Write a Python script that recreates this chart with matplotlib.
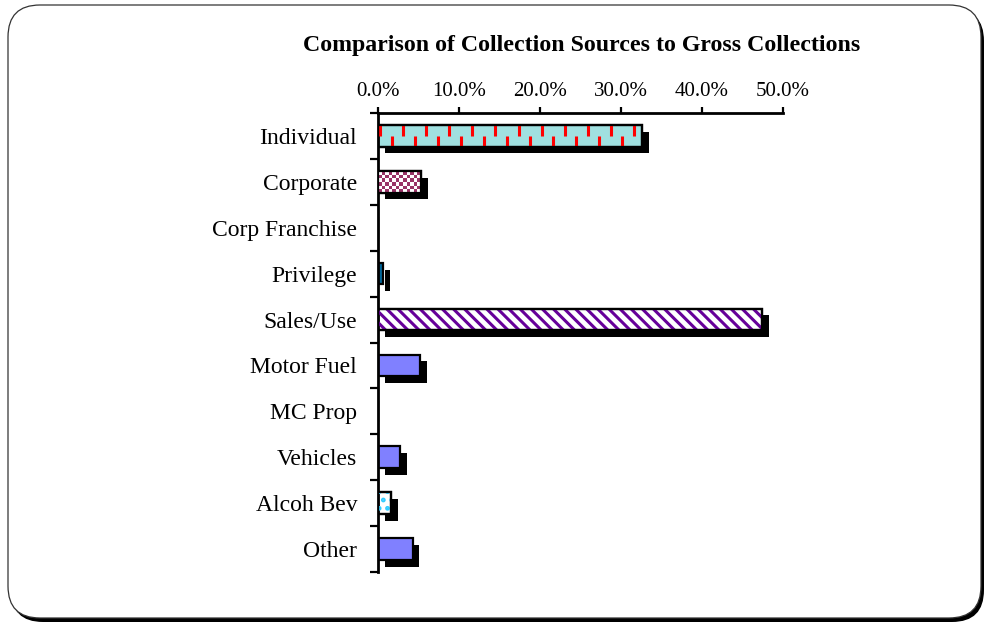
import numpy as np
import matplotlib
matplotlib.use('Agg')
import matplotlib.pyplot as plt
from matplotlib.patches import FancyBboxPatch, Rectangle
from matplotlib import patheffects as pe
from matplotlib.transforms import IdentityTransform

# share of gross collections by source, in percent
sources = ['Individual', 'Corporate', 'Corp Franchise', 'Privilege', 'Sales/Use',
           'Motor Fuel', 'MC Prop', 'Vehicles', 'Alcoh Bev', 'Other']
share = [32.6, 5.3, 0.0, 0.6, 47.4, 5.2, 0.0, 2.7, 1.6, 4.3]
x_ticks = [0, 10, 20, 30, 40, 50]
title = 'Comparison of Collection Sources to Gross Collections'

fills = ['#A0E0E0', '#FFFFFF', '#8080FF', '#006699', '#FFFFFF',
         '#8080FF', '#8080FF', '#8080FF', '#FFFFFF', '#8080FF']

plt.rcParams['font.family'] = ['Liberation Serif', 'DejaVu Serif']
plt.rcParams['hatch.linewidth'] = 2.2

fig = plt.figure(figsize=(9.86, 6.25), dpi=100)
fig.patch.set_facecolor('white')

# rounded page frame with a drop shadow, kept behind the axes
frame_shadow = FancyBboxPatch((11, 3), 973, 613, boxstyle='round,pad=0,rounding_size=32',
                              facecolor='black', edgecolor='black', linewidth=0,
                              transform=IdentityTransform(), zorder=-3)
frame = FancyBboxPatch((8, 7), 973, 613, boxstyle='round,pad=0,rounding_size=32',
                       facecolor='white', edgecolor='#333333', linewidth=0.9,
                       transform=IdentityTransform(), zorder=-2)
fig.add_artist(frame_shadow)
fig.add_artist(frame)

ax = fig.add_axes([378 / 986, 1 - 572 / 625, 405 / 986, 459 / 625])
ax.set_facecolor('none')

pos = np.arange(len(sources))
shadow_fx = [pe.SimplePatchShadow(offset=(4.8, -4.8), shadow_rgbFace='black', alpha=1.0),
             pe.Normal()]
bars = ax.barh(pos, share, height=0.47, color=fills, edgecolor='black',
               linewidth=1.6, zorder=2, path_effects=shadow_fx)

# Individual: red staggered dashes
b = bars[0]
y0, h = b.get_y(), b.get_height()
step = 2.85
row1 = np.arange(0.25, share[0] - 0.2, step)
row2 = np.arange(0.25 + step / 2, share[0] - 0.2, step)
dl1 = ax.vlines(row1, y0, y0 + h / 2, colors='red', linewidth=2.2, zorder=3)
dl2 = ax.vlines(row2, y0 + h / 2, y0 + h, colors='red', linewidth=2.2, zorder=3)
dl1.set_clip_path(b)
dl2.set_clip_path(b)

# Corporate: checkerboard
b = bars[1]
nx = max(1, int(round(b.get_width() * 8.1 / 3.6)))
ny = 6
check = np.add.outer(np.arange(ny), np.arange(nx)) % 2
purple = np.array([0x99, 0x33, 0x66]) / 255
img = np.where(check[..., None] == 1, purple, np.ones(3))
ax.imshow(img, extent=(0, b.get_width(), b.get_y() + b.get_height(), b.get_y()),
          aspect='auto', interpolation='nearest', zorder=3)

# Sales/Use: diagonal stripes
b = bars[4]
ax.add_patch(Rectangle(b.get_xy(), b.get_width(), b.get_height(), facecolor='none',
                       edgecolor='#660099', hatch='\\\\\\', linewidth=0, zorder=3))

# Alcoh Bev: cyan dots
b = bars[8]
ax.add_patch(Rectangle(b.get_xy(), b.get_width(), b.get_height(), facecolor='none',
                       edgecolor='#33CCFF', hatch='..', linewidth=0, zorder=3))

# redraw outlines above the fills
for i in (0, 1, 4, 8):
    b = bars[i]
    ax.add_patch(Rectangle(b.get_xy(), b.get_width(), b.get_height(), fill=False,
                           edgecolor='black', linewidth=1.6, zorder=4))

ax.set_xlim(0, 50)
ax.set_ylim(len(sources) - 0.5, -0.5)

ax.xaxis.tick_top()
ax.set_xticks(x_ticks)
ax.set_xticklabels([f'{v:.1f}%' for v in x_ticks])
ax.tick_params(axis='x', direction='out', length=4, width=1.6, pad=5, labelsize=15)

ax.set_yticks(pos)
ax.set_yticklabels(sources)
ax.tick_params(axis='y', which='major', length=0, pad=15, labelsize=17)
ax.set_yticks(np.arange(-0.5, len(sources), 1), minor=True)
ax.tick_params(axis='y', which='minor', direction='out', length=6, width=1.6)

for side in ('right', 'bottom'):
    ax.spines[side].set_visible(False)
for side in ('top', 'left'):
    ax.spines[side].set_linewidth(2)

fig.text(582 / 986, 1 - 45 / 625, title, ha='center', va='center',
         fontsize=17.2, fontweight='bold')

fig.savefig('out.png', dpi=100, facecolor='white')
